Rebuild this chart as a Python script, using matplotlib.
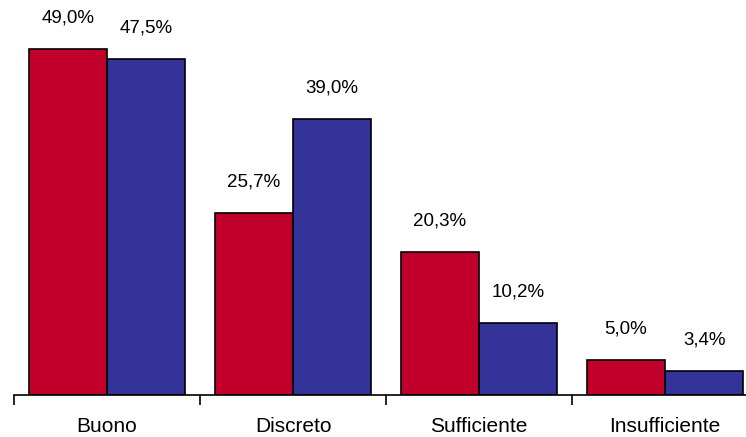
import matplotlib
matplotlib.use("Agg")
import matplotlib.pyplot as plt
import numpy as np

categories = ["Buono", "Discreto", "Sufficiente", "Insufficiente"]
series_a = [49.0, 25.7, 20.3, 5.0]
series_b = [47.5, 39.0, 10.2, 3.4]

plt.rcParams['font.family'] = ['Liberation Sans', 'DejaVu Sans']

fig = plt.figure(figsize=(7.46, 4.37), dpi=100)
ax = fig.add_axes([14/746, 42/437, 732/746, 395/437])

x = np.arange(len(categories))
w = 0.42
red = "#C0002A"
blue = "#333399"
ba = ax.bar(x - w/2, series_a, w, color=red, edgecolor="black", linewidth=1.2)
bb = ax.bar(x + w/2, series_b, w, color=blue, edgecolor="black", linewidth=1.2)

def fmt(v):
    return f"{v:.1f}".replace(".", ",") + "%"

for bars, vals in ((ba, series_a), (bb, series_b)):
    for r, v in zip(bars, vals):
        ax.annotate(fmt(v), (r.get_x() + r.get_width()/2, v), xytext=(0, 31),
                    textcoords="offset pixels", ha="center", va="center", fontsize=13.5)

for i, c in enumerate(categories):
    ax.annotate(c, (i, 0), xytext=(0, -31), textcoords="offset pixels",
                ha="center", va="center", fontsize=15, annotation_clip=False)

for s in ["top", "right", "left"]:
    ax.spines[s].set_visible(False)
ax.spines["bottom"].set_linewidth(1.2)
ax.set_yticks([])
ax.set_xticks(np.arange(len(categories) + 1) - 0.5)
ax.set_xticklabels([])
ax.tick_params(axis="x", length=7, width=1.2, direction="out")
ax.set_xlim(-0.5, 3.435)
ax.set_ylim(0, 55.9)

fig.savefig("out.png", dpi=100)
